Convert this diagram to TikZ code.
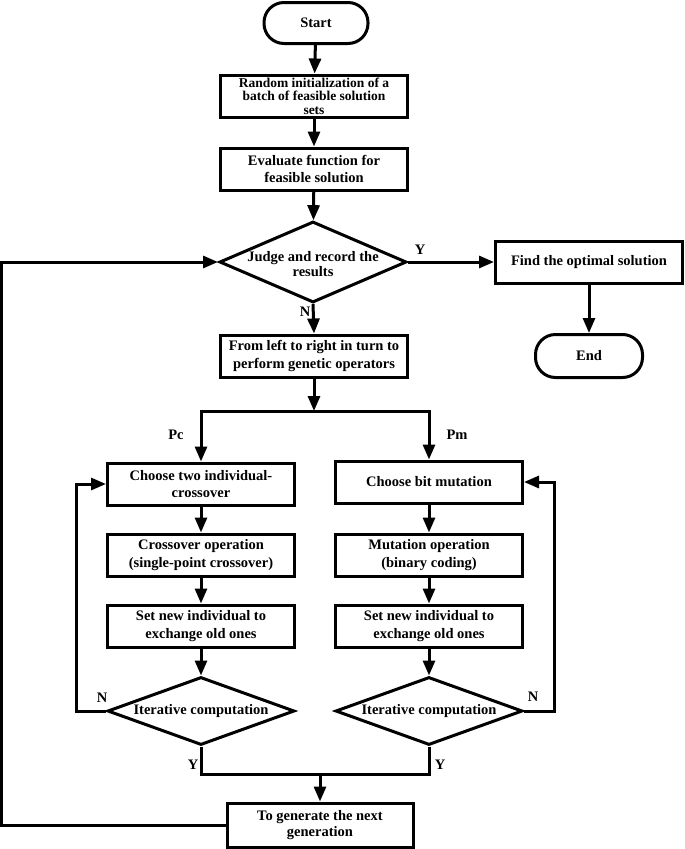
\documentclass[tikz,border=0pt]{standalone}
\usepackage{fontspec}
\setmainfont{Liberation Serif}
\usetikzlibrary{shapes.geometric}
\usetikzlibrary{arrows.meta}
\tikzset{mbox/.style={draw,line width=3pt,minimum width=187pt,minimum height=42pt,align=center,inner sep=1pt}}
\tikzset{mterm/.style={draw,line width=3pt,rounded corners=20pt,minimum width=104pt,minimum height=41pt}}
\tikzset{mdec/.style={draw,diamond,line width=3pt,inner sep=0pt,minimum width=187pt}}
\tikzset{marr/.style={line width=3pt,-{Triangle[length=15pt,width=12pt]}}}
\tikzset{mline/.style={line width=3pt}}
\tikzset{mtxt/.style={align=center,font=\bfseries\fontsize{14.5}{12}\selectfont}}

\begin{document}
\begin{tikzpicture}[x=1pt,y=-1pt,font=\bfseries\fontsize{14.5}{17.5}\selectfont]
\useasboundingbox (0,0) rectangle (685,849);

% main column
\node[mterm] (start) at (316,23) {Start};
\node[mbox,font=\bfseries\fontsize{13.5}{13.5}\selectfont] (init) at (314,96) {Random initialization of a\\batch of feasible solution\\sets};
\node[mbox] (eval) at (314,169) {Evaluate function for\\feasible solution};
\node[mdec,minimum height=81pt,label={[mtxt,yshift=-2pt]center:Judge and record the\\results}] (judge) at (313,262) {};
\node[mbox] (opt) at (589,262) {Find the optimal solution};
\node[mterm,minimum width=107pt,minimum height=43pt] (end) at (589,356) {End};
\node[mbox] (ops) at (314,356) {From left to right in turn to\\perform genetic operators};

\coordinate (split) at (314,411);

% crossover branch
\node[mbox] (cho2) at (201,484) {Choose two individual-\\crossover};
\node[mbox] (cross) at (201,555) {Crossover operation\\(single-point crossover)};
\node[mbox] (setL) at (201,626) {Set new individual to\\exchange old ones};
\node[mdec,minimum height=68pt,label={[mtxt]center:Iterative computation}] (iterL) at (201,711) {};

% mutation branch
\node[mbox] (bitm) at (429,482) {Choose bit mutation};
\node[mbox] (mut) at (429,555) {Mutation operation\\(binary coding)};
\node[mbox] (setR) at (429,626) {Set new individual to\\exchange old ones};
\node[mdec,minimum height=68pt,label={[mtxt]center:Iterative computation}] (iterR) at (429,711) {};

\coordinate (merge) at (320,774);
\node[mbox,minimum width=186pt,minimum height=44pt,font=\bfseries\fontsize{14.5}{16}\selectfont] (next) at (320,825) {To generate the next\\generation};

\draw[marr] (start) -- (init);
\draw[marr] (init) -- (eval);
\draw[marr] (eval) -- (judge);
\draw[marr] (judge.east) -- (opt.west);
\draw[marr] (opt) -- (end);
\draw[marr] (judge.south) -- (ops.north);
\draw[marr] (ops) -- (split);
\draw[marr] (split) -| (cho2.north);
\draw[marr] (split) -| (bitm.north);

\draw[marr] (cho2) -- (cross);
\draw[marr] (cross) -- (setL);
\draw[marr] (setL) -- (iterL.north);
\draw[marr] (bitm) -- (mut);
\draw[marr] (mut) -- (setR);
\draw[marr] (setR) -- (iterR.north);

\draw[marr] (iterL.west) -- ++(-30,0) |- (cho2.west);
\draw[marr] (iterR.east) -- ++(30,0) |- (bitm.east);
\draw[mline] (iterL.south) |- (merge);
\draw[mline] (iterR.south) |- (merge);
\draw[marr] (merge) -- (next);
\draw[marr] (next.west) -- ++(-224,0) |- (judge.west);

% branch labels
\node at (420,250) {Y};
\node at (305,312) {N};
\node at (176,435) {Pc};
\node at (457,435) {Pm};
\node at (102,698) {N};
\node at (533,697) {N};
\node at (193,765) {Y};
\node at (440,765) {Y};

\end{tikzpicture}
\end{document}
